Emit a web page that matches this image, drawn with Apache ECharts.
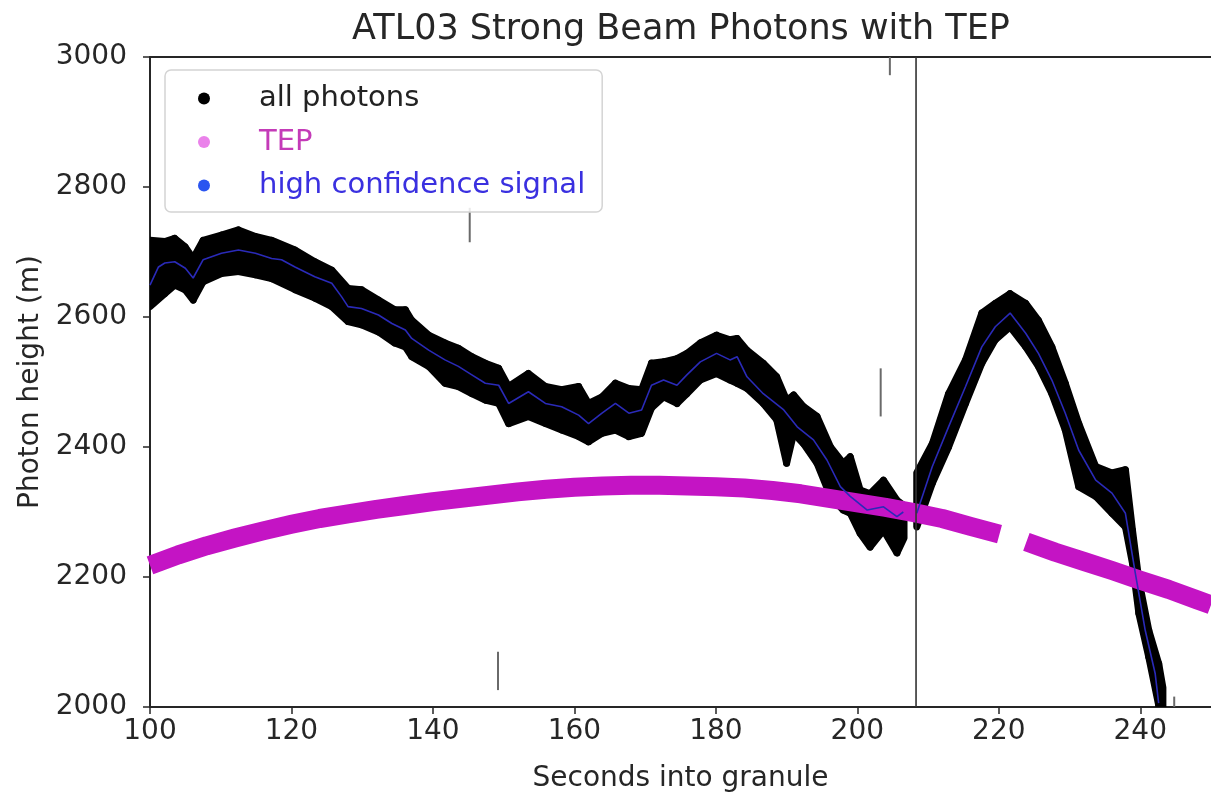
<!DOCTYPE html>
<html><head><meta charset="utf-8">
<script src="https://cdn.jsdelivr.net/npm/echarts@6/dist/echarts.min.js"></script>
<style>html,body{margin:0;padding:0;background:#fff}#c{width:1211px;height:795px}</style>
</head><body><div id="c"></div>
<script>
// ---- data ----
const titleText = 'ATL03 Strong Beam Photons with TEP';
const xName = 'Seconds into granule';
const yName = 'Photon height (m)';
const seriesNames = ['all photons', 'TEP', 'high confidence signal'];

// all photons: band envelope (null = gap)
const bandX = [100.0,102.1,103.5,104.95,106.1,107.5,110.1,112.5,114.9,117.2,120.5,123.3,125.7,128.0,129.9,132.3,134.6,136.1,137.0,139.4,141.7,143.6,145.5,147.4,149.3,150.7,153.5,155.9,158.2,160.6,162.0,163.9,165.8,167.7,169.5,170.9,172.6,174.5,175.9,177.8,180.1,182.0,183.0,184.4,186.7,188.6,190.0,191.0,192.4,194.3,196.2,198.0,199.0,200.4,201.8,203.7,205.6,206.6,null,208.4,210.6,212.9,215.3,217.6,219.5,221.6,223.8,225.6,227.5,229.4,231.3,233.7,236.0,237.9,238.9,239.8,241.2,242.6,243.2];
const bandLow = [2616,2636,2649,2642,2626,2654,2667,2670,2665,2659,2642,2629,2616,2593,2588,2577,2560,2554,2539,2524,2498,2493,2482,2472,2467,2436,2447,2436,2426,2416,2408,2421,2426,2416,2421,2460,2477,2467,2482,2503,2513,2503,2498,2490,2467,2442,2375,2421,2405,2375,2324,2303,2298,2267,2246,2272,2237,2260,null,2277,2344,2400,2467,2529,2565,2585,2554,2524,2482,2426,2339,2324,2298,2277,2221,2144,2077,2003,2000];
const bandHigh = [2718,2716,2721,2708,2690,2718,2726,2734,2724,2718,2703,2685,2672,2644,2642,2626,2611,2611,2595,2572,2560,2552,2539,2529,2521,2493,2513,2493,2488,2493,2467,2477,2498,2490,2488,2529,2531,2536,2544,2560,2572,2565,2567,2549,2529,2508,2472,2480,2462,2447,2400,2375,2385,2334,2328,2349,2318,2310,null,2360,2405,2482,2534,2606,2621,2636,2621,2595,2554,2498,2436,2370,2360,2365,2272,2195,2118,2067,2030];

// high confidence signal
const signalX = [100.0,101.2,102.1,103.5,105.0,106.1,107.5,110.1,112.5,114.9,117.2,118.6,120.5,123.3,125.7,127.1,128.0,129.9,132.3,134.2,136.1,137.0,139.4,141.7,143.6,145.5,147.4,149.3,150.7,153.5,155.9,158.2,160.6,162.0,163.9,165.8,167.7,169.5,170.9,172.6,174.5,175.9,177.8,180.1,182.0,183.0,184.4,186.7,189.6,191.5,193.8,195.7,197.6,199.0,201.4,203.7,205.6,206.5,207.4,208.4,210.6,212.9,215.3,217.6,219.5,221.6,223.8,225.6,227.5,229.4,231.3,233.7,236.0,237.9,239.3,240.7,242.1,242.6];
const signalY = [2649,2677,2683,2685,2675,2660,2688,2698,2703,2698,2690,2688,2677,2662,2652,2631,2616,2613,2603,2590,2580,2567,2549,2534,2524,2511,2498,2495,2467,2485,2467,2462,2449,2436,2452,2467,2452,2457,2495,2503,2495,2511,2531,2544,2534,2539,2508,2482,2457,2431,2411,2380,2339,2324,2303,2308,2293,2300,null,2298,2370,2431,2493,2554,2585,2606,2575,2544,2503,2452,2395,2349,2329,2298,2206,2118,2052,2006];

// TEP
const tepX = [100,104,108,112,116,120,124,128,132,136,140,144,148,152,156,160,164,168,172,176,180,184,188,192,196,200,204,208,212,216,220.1,222,223.9,228,232,236,240,244,248,250];
const tepY = [2218,2234,2248,2260,2271,2281,2290,2297,2304,2310,2316,2321,2326,2331,2335,2338,2340,2341,2341,2340,2339,2337,2333,2328,2321,2314,2307,2299,2290,2278,2266,null,2254,2238,2224,2210,2195,2181,2165,2157];

// isolated noise photons (vertical streaks)
const noiseX = [145.2, 149.2, 203.3, 204.6, 244.8];
const noiseLow = [2715, 2026, 2447, 2972, 2000];
const noiseHigh = [2768, 2085, 2521, 3000, 2016];

// vertical boundary line
const boundaryX = [208.3];
const boundaryLow = [2000];
const boundaryHigh = [3000];

const xMin = 100, xMax = 250, xStep = 20;
const yMin = 2000, yMax = 3000, yStep = 200;

// ---- chart ----
const FONT = 'DejaVu Sans';
const TXT = '#262626';
const chart = echarts.init(document.getElementById('c'), null, {renderer: 'canvas'});

function seg(xs, lo, hi) {
  return xs.map((x, i) => [x, lo[i], hi[i]]);
}

const option = {
  animation: false,
  backgroundColor: '#fff',
  title: {
    text: titleText, left: 681, top: 12, textAlign: 'center', padding: 0,
    textStyle: {fontFamily: FONT, fontSize: 35, fontWeight: 'normal', color: TXT}
  },
  grid: {left: 150, right: 0, top: 57, bottom: 88, containLabel: false, outerBoundsMode: 'none'},
  legend: {
    orient: 'vertical', left: 165, top: 70,
    padding: [14, 17, 12, 33], itemGap: 14.5, itemWidth: 12, itemHeight: 13,
    backgroundColor: 'rgba(255,255,255,0.85)', borderColor: '#d4d4d4', borderWidth: 1.5, borderRadius: 6,
    textStyle: {fontFamily: FONT, fontSize: 29, lineHeight: 29, padding: [0, 0, 0, 44]},
    selectedMode: false,
    data: [
      {name: seriesNames[0], icon: 'circle', itemStyle: {color: '#000'}, textStyle: {color: '#222'}},
      {name: seriesNames[1], icon: 'circle', itemStyle: {color: '#ea82ea'}, textStyle: {color: '#c43bb8'}},
      {name: seriesNames[2], icon: 'circle', itemStyle: {color: '#2a55f0'}, textStyle: {color: '#3a30e0'}}
    ]
  },
  xAxis: [{
    type: 'value', min: xMin, max: xMax, interval: xStep, position: 'bottom',
    name: xName, nameLocation: 'middle', nameGap: 58,
    nameTextStyle: {fontFamily: FONT, fontSize: 28, color: TXT},
    axisLine: {show: true, lineStyle: {color: TXT, width: 2}},
    axisTick: {show: true, length: 7, lineStyle: {color: TXT, width: 1.5}},
    axisLabel: {fontFamily: FONT, fontSize: 28, color: TXT, margin: 11, showMaxLabel: false,
      formatter: v => String(v)},
    splitLine: {show: false}
  }, {
    type: 'value', min: xMin, max: xMax, position: 'top',
    axisLine: {show: true, onZero: false, lineStyle: {color: TXT, width: 2}},
    axisTick: {show: false}, axisLabel: {show: false}, splitLine: {show: false}
  }],
  yAxis: {
    type: 'value', min: yMin, max: yMax, interval: yStep,
    name: yName, nameLocation: 'middle', nameGap: 97,
    nameTextStyle: {fontFamily: FONT, fontSize: 28, color: TXT},
    axisLine: {show: true, lineStyle: {color: TXT, width: 2}},
    axisTick: {show: true, length: 7, lineStyle: {color: TXT, width: 1.5}},
    axisLabel: {fontFamily: FONT, fontSize: 28, color: TXT, margin: 23, formatter: v => String(v)},
    splitLine: {show: false}
  },
  series: [
    {
      name: seriesNames[0], type: 'custom', z: 2, clip: true,
      encode: {x: 0, y: [1, 2]},
      data: seg(bandX, bandLow, bandHigh).map(r => r[0] == null ? ['-', '-', '-'] : r),
      renderItem: function (params, api) {
        const i = params.dataIndex;
        if (i >= bandX.length - 1 || bandX[i] == null || bandX[i + 1] == null) return null;
        const pts = [
          api.coord([bandX[i], bandHigh[i]]),
          api.coord([bandX[i + 1], bandHigh[i + 1]]),
          api.coord([bandX[i + 1], bandLow[i + 1]]),
          api.coord([bandX[i], bandLow[i]])
        ];
        return {type: 'polygon', shape: {points: pts},
          style: {fill: '#000', stroke: '#000', lineWidth: 7, lineJoin: 'round'}};
      }
    },
    {
      name: 'noise', type: 'custom', z: 2,
      encode: {x: 0, y: [1, 2]},
      data: seg(noiseX, noiseLow, noiseHigh),
      renderItem: function (params, api) {
        const a = api.coord([api.value(0), api.value(1)]);
        const b = api.coord([api.value(0), api.value(2)]);
        return {type: 'line', shape: {x1: a[0], y1: a[1], x2: b[0], y2: b[1]}, style: {stroke: '#6a6a6a', lineWidth: 2}};
      }
    },
    {
      name: seriesNames[1], type: 'line', z: 3,
      data: tepX.map((x, i) => [x, tepY[i] == null ? '-' : tepY[i]]),
      showSymbol: false, symbol: 'none', connectNulls: false,
      lineStyle: {color: '#c414c4', width: 19, cap: 'butt', join: 'round'},
      itemStyle: {color: '#c414c4'}
    },
    {
      name: seriesNames[2], type: 'line', z: 4,
      data: signalX.map((x, i) => [x, signalY[i] == null ? '-' : signalY[i]]),
      showSymbol: false, symbol: 'none', connectNulls: false,
      lineStyle: {color: '#2a2ab8', width: 1.6},
      itemStyle: {color: '#2a2ab8'}
    },
    {
      name: 'boundary', type: 'custom', z: 5,
      encode: {x: 0, y: [1, 2]},
      data: seg(boundaryX, boundaryLow, boundaryHigh),
      renderItem: function (params, api) {
        const a = api.coord([api.value(0), api.value(1)]);
        const b = api.coord([api.value(0), api.value(2)]);
        return {type: 'line', shape: {x1: a[0], y1: a[1], x2: b[0], y2: b[1]}, style: {stroke: '#333', lineWidth: 1.6}};
      }
    }
  ]
};
chart.setOption(option);
</script>
</body></html>
